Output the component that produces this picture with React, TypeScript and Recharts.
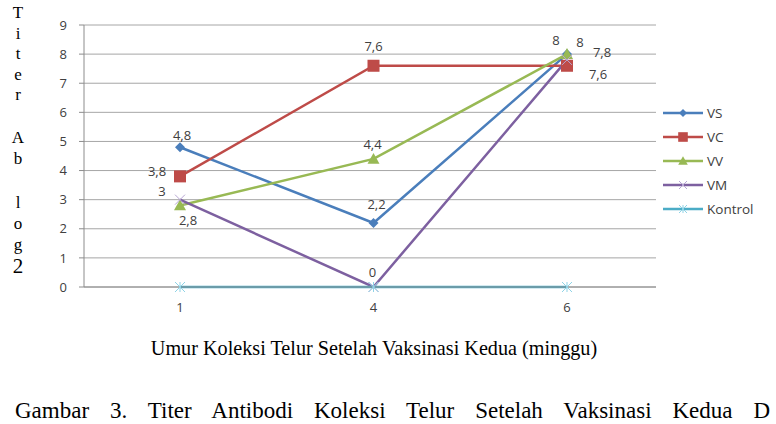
import React from 'react';
import {
  CartesianGrid,
  LabelList,
  Line,
  LineChart,
  XAxis,
  YAxis,
} from 'recharts';

// data
const weeks = ['1', '4', '6'];
const vs = [4.8, 2.2, 8];
const vc = [3.8, 7.6, 7.6];
const vv = [2.8, 4.4, 8];
const vm = [3, 0, 7.8];
const kontrol = [0, 0, 0];
const yTicks = [0, 1, 2, 3, 4, 5, 6, 7, 8, 9];

const data = weeks.map((w, i) => ({
  week: w,
  VS: vs[i],
  VC: vc[i],
  VV: vv[i],
  VM: vm[i],
  Kontrol: kontrol[i],
}));

const FONT = '"Open Sans", sans-serif';
const SERIF = '"Liberation Serif", "Times New Roman", serif';
const TXT = '#404040';

const Marker = ({ shape, x, y, color, s = 1 }) => {
  if (shape === 'diamond') {
    const r = 5 * s;
    return <polygon points={`${x},${y - r} ${x + r},${y} ${x},${y + r} ${x - r},${y}`} fill={color} />;
  }
  if (shape === 'square') {
    const r = 6 * s;
    return <rect x={x - r} y={y - r} width={2 * r} height={2 * r} fill={color} />;
  }
  if (shape === 'triangle') {
    const r = 6 * s;
    return <polygon points={`${x},${y - r} ${x + r},${y + r * 0.8} ${x - r},${y + r * 0.8}`} fill={color} />;
  }
  if (shape === 'x') {
    const r = 5 * s;
    return (
      <g stroke="#b7a6d3" strokeWidth={1}>
        <line x1={x - r} y1={y - r} x2={x + r} y2={y + r} />
        <line x1={x - r} y1={y + r} x2={x + r} y2={y - r} />
      </g>
    );
  }
  const r = 5 * s;
  return (
    <g stroke="#8fd3e6" strokeWidth={1}>
      <line x1={x - r} y1={y - r} x2={x + r} y2={y + r} />
      <line x1={x - r} y1={y + r} x2={x + r} y2={y - r} />
      <line x1={x} y1={y - r} x2={x} y2={y + r} />
    </g>
  );
};

const series = [
  { key: 'VS', color: '#4A7EBB', shape: 'diamond', off: [[2, -12], [3, -19], [-11, -14]] },
  { key: 'VC', color: '#BE4B48', shape: 'square', off: [[-23, -5], [0, -20], [31, 8]] },
  { key: 'VV', color: '#98B954', shape: 'triangle', off: [[8, 15], [-1, -15], [13, -12]] },
  { key: 'VM', color: '#7D60A0', shape: 'x', off: [[-18, -9], [-1, -15], [35, -8]] },
  { key: 'Kontrol', color: '#4BACC6', shape: 'star', off: null },
];

const makeLabel = (off) => (props) => {
  const { x, y, value, index } = props;
  const [dx, dy] = off[index];
  return (
    <text
      key={index}
      x={x + dx}
      y={y + dy}
      textAnchor="middle"
      dominantBaseline="central"
      fontFamily={FONT}
      fontSize={13}
      fill={TXT}
    >
      {String(value).replace('.', ',')}
    </text>
  );
};

const LegendBox = () => (
  <svg width={116} height={124} style={{ position: 'absolute', left: 660, top: 103 }}>
    {series.map((s, i) => {
      const y = 10 + i * 24;
      return (
        <g key={s.key}>
          <line x1={3} y1={y} x2={43} y2={y} stroke={s.color} strokeWidth={2.5} />
          <Marker shape={s.shape} x={23} y={y} color={s.color} s={0.8} />
          <text x={47} y={y} dominantBaseline="central" fontFamily={FONT} fontSize={13.5} fill={TXT}>
            {s.key}
          </text>
        </g>
      );
    })}
  </svg>
);

const yLetters = [
  ['T', 12], ['i', 33], ['t', 53], ['e', 74], ['r', 94],
  ['A', 137], ['b', 158], ['l', 202], ['o', 223], ['g', 244], ['2', 266],
];

export default function App() {
  return (
    <div style={{ position: 'absolute', left: 0, top: 0, width: 776, height: 424, overflow: 'hidden', background: '#fff' }}>
      <LineChart width={776} height={424} data={data} margin={{ top: 25, right: 120, left: 34, bottom: 107 }}>
        <CartesianGrid vertical={false} stroke="#a6a6a6" />
        <XAxis
          dataKey="week"
          padding={{ left: 96, right: 89 }}
          stroke="#8c8c8c"
          tickLine={false}
          tickSize={5}
          tickMargin={11}
          height={30}
          tick={{ fill: TXT, fontFamily: FONT, fontSize: 13 }}
        />
        <YAxis
          domain={[0, 9]}
          ticks={yTicks}
          width={50}
          stroke="#8c8c8c"
          tickSize={5}
          tickMargin={12}
          tick={{ fill: TXT, fontFamily: FONT, fontSize: 13 }}
        />
        {series.map((s) => (
          <Line
            key={s.key}
            dataKey={s.key}
            stroke={s.color}
            strokeWidth={2.5}
            isAnimationActive={false}
            dot={(p) => <Marker key={`${s.key}-${p.index}`} shape={s.shape} x={p.cx} y={p.cy} color={s.color} />}
            activeDot={false}
          >
            {s.off && <LabelList dataKey={s.key} content={makeLabel(s.off)} />}
          </Line>
        ))}
      </LineChart>
      <LegendBox />
      {yLetters.map(([c, y]) => (
        <div
          key={c + y}
          style={{
            position: 'absolute',
            left: 18,
            top: y,
            transform: 'translate(-50%, -50%)',
            fontFamily: SERIF,
            fontSize: c === '2' ? 21 : 17,
            color: '#000',
            lineHeight: 1,
          }}
        >
          {c}
        </div>
      ))}
      <div
        style={{
          position: 'absolute',
          left: 0,
          width: 748,
          top: 338,
          textAlign: 'center',
          fontFamily: SERIF,
          fontSize: 20.2,
          lineHeight: 1,
          color: '#000',
        }}
      >
        Umur Koleksi Telur Setelah Vaksinasi Kedua (minggu)
      </div>
      <div
        style={{
          position: 'absolute',
          left: 15,
          width: 755,
          top: 399,
          textAlign: 'justify',
          textAlignLast: 'justify',
          whiteSpace: 'nowrap',
          fontFamily: SERIF,
          fontSize: 23,
          lineHeight: 1,
          color: '#000',
        }}
      >
        Gambar 3. Titer Antibodi Koleksi Telur Setelah Vaksinasi Kedua D
      </div>
    </div>
  );
}
